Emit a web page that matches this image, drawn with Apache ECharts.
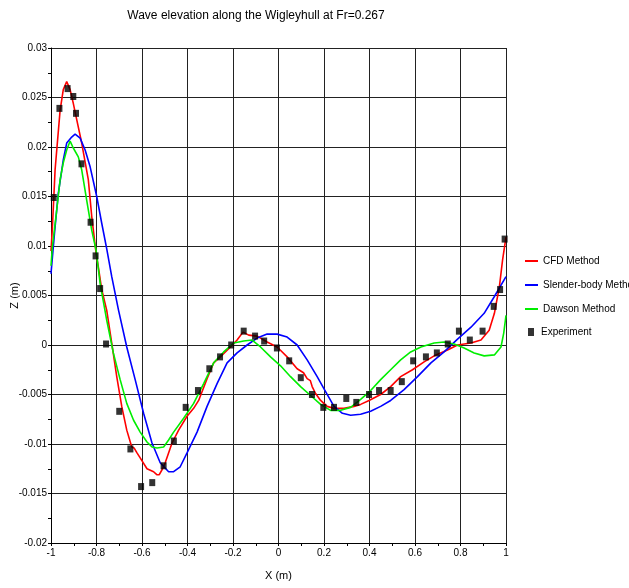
<!DOCTYPE html>
<html><head><meta charset="utf-8">
<script src="https://cdn.jsdelivr.net/npm/echarts@6/dist/echarts.min.js"></script>
<style>html,body{margin:0;padding:0;background:#fff}#c{width:629px;height:588px}</style>
</head><body><div id="c"></div>
<script>
const titleText = 'Wave elevation along the Wigleyhull at Fr=0.267';
const seriesNames = ['CFD Method', 'Slender-body Method', 'Dawson Method', 'Experiment'];
const xTicks = [-1, -0.8, -0.6, -0.4, -0.2, 0, 0.2, 0.4, 0.6, 0.8, 1];
const yTicks = [-0.02, -0.015, -0.01, -0.005, 0, 0.005, 0.01, 0.015, 0.02, 0.025, 0.03];

const cfd = [[-1,0.0095],[-0.994,0.0118],[-0.982,0.0177],[-0.96,0.0237],[-0.946,0.0258],[-0.931,0.0266],[-0.916,0.0258],[-0.902,0.0244],[-0.89,0.0231],[-0.865,0.0204],[-0.836,0.0167],[-0.821,0.0130],[-0.802,0.0093],[-0.792,0.0079],[-0.777,0.0056],[-0.755,0.0035],[-0.733,0.0002],[-0.711,-0.0032],[-0.689,-0.0062],[-0.667,-0.0086],[-0.645,-0.0103],[-0.635,-0.0104],[-0.622,-0.0109],[-0.608,-0.0114],[-0.578,-0.0125],[-0.549,-0.0128],[-0.535,-0.0131],[-0.524,-0.0131],[-0.512,-0.0126],[-0.498,-0.0119],[-0.468,-0.0099],[-0.439,-0.0086],[-0.402,-0.0072],[-0.373,-0.0064],[-0.351,-0.0056],[-0.314,-0.0034],[-0.285,-0.0018],[-0.256,-0.0012],[-0.211,-0.0002],[-0.182,0.0005],[-0.156,0.0013],[-0.131,0.0010],[-0.094,0.0009],[-0.050,0.0003],[-0.006,-0.0002],[0.038,-0.0012],[0.082,-0.0024],[0.110,-0.0028],[0.126,-0.0034],[0.140,-0.0036],[0.148,-0.0042],[0.163,-0.0049],[0.185,-0.0056],[0.214,-0.0062],[0.244,-0.0064],[0.288,-0.0064],[0.332,-0.0062],[0.361,-0.0060],[0.398,-0.0056],[0.449,-0.0050],[0.493,-0.0042],[0.537,-0.0032],[0.589,-0.0025],[0.640,-0.0017],[0.692,-0.0010],[0.743,-0.0005],[0.787,0.0000],[0.846,0.0002],[0.890,0.0005],[0.926,0.0015],[0.949,0.0032],[0.971,0.0059],[0.985,0.0086],[1.0,0.0109]];

const slender = [[-1,0.0072],[-0.985,0.0112],[-0.968,0.0153],[-0.946,0.0187],[-0.931,0.0204],[-0.909,0.0210],[-0.894,0.0213],[-0.872,0.0209],[-0.850,0.0197],[-0.828,0.0180],[-0.799,0.0150],[-0.777,0.0123],[-0.755,0.0097],[-0.733,0.0069],[-0.703,0.0035],[-0.667,-0.0002],[-0.630,-0.0035],[-0.593,-0.0069],[-0.556,-0.0099],[-0.520,-0.0119],[-0.483,-0.0128],[-0.461,-0.0128],[-0.432,-0.0123],[-0.402,-0.0109],[-0.358,-0.0088],[-0.314,-0.0062],[-0.270,-0.0039],[-0.226,-0.0018],[-0.182,-0.0008],[-0.138,0.0000],[-0.094,0.0007],[-0.050,0.0011],[-0.006,0.0011],[0.038,0.0008],[0.082,0.0000],[0.126,-0.0015],[0.170,-0.0032],[0.207,-0.0047],[0.244,-0.0062],[0.281,-0.0069],[0.317,-0.0071],[0.361,-0.0070],[0.405,-0.0067],[0.449,-0.0062],[0.493,-0.0056],[0.552,-0.0045],[0.611,-0.0032],[0.670,-0.0018],[0.728,-0.0007],[0.787,0.0006],[0.846,0.0018],[0.904,0.0032],[0.949,0.0049],[1.0,0.0069]];

const dawson = [[-1,0.0080],[-0.994,0.0099],[-0.975,0.0136],[-0.960,0.0167],[-0.946,0.0184],[-0.931,0.0197],[-0.916,0.0206],[-0.902,0.0199],[-0.880,0.0190],[-0.865,0.0177],[-0.843,0.0146],[-0.821,0.0116],[-0.802,0.0096],[-0.784,0.0062],[-0.755,0.0025],[-0.726,-0.0008],[-0.696,-0.0035],[-0.667,-0.0059],[-0.637,-0.0076],[-0.608,-0.0088],[-0.578,-0.0098],[-0.556,-0.0103],[-0.534,-0.0104],[-0.505,-0.0103],[-0.483,-0.0096],[-0.461,-0.0088],[-0.417,-0.0074],[-0.373,-0.0059],[-0.329,-0.0039],[-0.285,-0.0018],[-0.241,-0.0007],[-0.197,0.0002],[-0.153,0.0004],[-0.116,0.0005],[-0.079,-0.0002],[-0.035,-0.0012],[0.009,-0.0021],[0.053,-0.0032],[0.097,-0.0042],[0.141,-0.0051],[0.185,-0.0060],[0.229,-0.0066],[0.273,-0.0066],[0.317,-0.0063],[0.361,-0.0055],[0.405,-0.0046],[0.449,-0.0035],[0.493,-0.0025],[0.537,-0.0015],[0.581,-0.0007],[0.626,-0.0002],[0.684,0.0002],[0.728,0.0003],[0.772,0.0001],[0.816,-0.0003],[0.860,-0.0008],[0.904,-0.0011],[0.949,-0.0010],[0.978,-0.0002],[0.990,0.0012],[1.0,0.0030]];

const experiment = [[-0.988,0.0149],[-0.963,0.0239],[-0.927,0.0259],[-0.902,0.0251],[-0.890,0.0234],[-0.866,0.0183],[-0.826,0.0124],[-0.804,0.0090],[-0.784,0.0057],[-0.758,0.0001],[-0.700,-0.0067],[-0.651,-0.0105],[-0.604,-0.0143],[-0.555,-0.0139],[-0.505,-0.0122],[-0.460,-0.0097],[-0.408,-0.0063],[-0.354,-0.0046],[-0.304,-0.0024],[-0.257,-0.0012],[-0.208,0.0000],[-0.153,0.0014],[-0.103,0.0009],[-0.063,0.0004],[-0.007,-0.0003],[0.047,-0.0016],[0.098,-0.0033],[0.147,-0.0050],[0.197,-0.0063],[0.244,-0.0063],[0.298,-0.0054],[0.342,-0.0058],[0.398,-0.0050],[0.442,-0.0046],[0.493,-0.0046],[0.542,-0.0037],[0.592,-0.0016],[0.648,-0.0012],[0.696,-0.0008],[0.744,0.0001],[0.793,0.0014],[0.841,0.0005],[0.897,0.0014],[0.946,0.0039],[0.974,0.0056],[0.994,0.0107]];

const FONT = "'Liberation Sans',Arial,sans-serif";
const chart = echarts.init(document.getElementById('c'), null, {renderer: 'canvas'});
const lineSeries = (name, data, color) => ({
  name, type: 'line', data, symbol: 'none', showSymbol: false,
  lineStyle: {color, width: 1.6}, itemStyle: {color}, animation: false, z: 3
});
chart.setOption({
  animation: false,
  backgroundColor: '#fff',
  title: {text: titleText, left: 251, top: 5, textAlign: 'center',
    textStyle: {fontFamily: FONT, fontSize: 12, fontWeight: 'normal', color: '#000'}},
  grid: {left: 51, right: 123, top: 48, bottom: 45, containLabel: false, outerBoundsMode: 'none'},
  legend: [{
    data: seriesNames.slice(0, 3), orient: 'vertical', left: 519, top: 251,
    itemWidth: 13, itemHeight: 2, itemGap: 14,
    textStyle: {fontFamily: FONT, fontSize: 10, color: '#000'}
  }, {
    data: [seriesNames[3]], orient: 'vertical', left: 523, top: 322,
    itemWidth: 6, itemHeight: 8, itemGap: 15,
    textStyle: {fontFamily: FONT, fontSize: 10, color: '#000', padding: [0, 0, 0, 2]}
  }],
  xAxis: {
    type: 'value', min: xTicks[0], max: xTicks[xTicks.length - 1], interval: 0.2,
    name: 'X (m)', nameLocation: 'middle', nameGap: 27, nameMoveOverlap: false,
    nameTextStyle: {fontFamily: FONT, fontSize: 11, color: '#000'},
    axisLine: {onZero: false, lineStyle: {color: '#000', width: 1}},
    axisTick: {show: true, length: 3, lineStyle: {color: '#000'}},
    minorTick: {show: true, splitNumber: 2, length: 3, lineStyle: {color: '#000'}},
    axisLabel: {fontFamily: FONT, fontSize: 10, color: '#000', margin: 5,
      formatter: v => String(+v.toFixed(1))},
    splitLine: {show: true, lineStyle: {color: '#222', width: 1}}
  },
  yAxis: {
    type: 'value', min: yTicks[0], max: yTicks[yTicks.length - 1], interval: 0.005,
    name: 'Z (m)', nameLocation: 'middle', nameGap: 31, nameRotate: 90, nameMoveOverlap: false,
    nameTextStyle: {fontFamily: FONT, fontSize: 11, color: '#000'},
    axisLine: {show: true, onZero: false, lineStyle: {color: '#000', width: 1}},
    axisTick: {show: true, length: 3, lineStyle: {color: '#000'}},
    minorTick: {show: true, splitNumber: 2, length: 3, lineStyle: {color: '#000'}},
    axisLabel: {fontFamily: FONT, fontSize: 10, color: '#000', margin: 4,
      formatter: v => String(+v.toFixed(3))},
    splitLine: {show: true, lineStyle: {color: '#222', width: 1}}
  },
  series: [
    lineSeries(seriesNames[0], cfd, '#ff0000'),
    lineSeries(seriesNames[1], slender, '#0000ff'),
    lineSeries(seriesNames[2], dawson, '#00ee00'),
    {name: seriesNames[3], type: 'scatter', data: experiment, symbol: 'rect',
     symbolSize: [6, 7], itemStyle: {color: '#000'}, z: 5}
  ]
});
</script></body></html>
